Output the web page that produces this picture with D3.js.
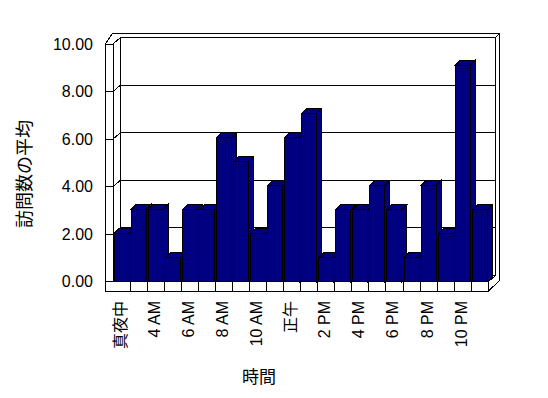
<!DOCTYPE html>
<html>
<head>
<meta charset="utf-8">
<script src="https://cdn.jsdelivr.net/npm/d3@7"></script>
<style>
body { margin: 0; background: #fff; }
text { font-family: "Liberation Sans", "Noto Sans CJK JP", sans-serif; fill: #000; }
</style>
</head>
<body>
<div id="drawing"></div>
<script>
"use strict"

/**** Data ****/
let categories = ["真夜中","3 AM","4 AM","5 AM","6 AM","7 AM","8 AM","9 AM","10 AM","11 AM","正午",
  "1 PM","2 PM","3 PM","4 PM","5 PM","6 PM","7 PM","8 PM","9 PM","10 PM","11 PM"]
let visits = [2,3,3,1,3,3,6,5,2,4,6,7,1,3,3,4,3,1,4,2,9,3]
let yTicks = [0,2,4,6,8,10]
let yTitle = "訪問数の平均"
let xTitle = "時間"

/**** Layout ****/
let svgWidth = 548
let svgHeight = 398

let wallLeft = 105.3     // outer front edge of left wall
let plotLeft = 113       // inner front edge
let plotRight = 488.3
let floorTop = 281.7
let floorBottom = 291
let depth = [7.3, -6.3]  // front -> back wall
let thick = [3.7, -4.4]  // wall thickness
let barDepth = [5, -5]

let svg = d3.select("#drawing")
.append("svg")
.attr("width", svgWidth)
.attr("height", svgHeight)
.attr("shape-rendering", "crispEdges")

/**** Scales ****/
let xScale = d3.scaleBand()
.domain(categories)
.range([plotLeft, plotRight])
.paddingInner(0.12)
.paddingOuter(0.06)

// axis on left wall front face
let yAxis = d3.scaleLinear().domain([0,10]).range([floorTop, 44])
// bars (front face)
let yBar = d3.scaleLinear().domain([0,10]).range([floorTop, 41.2])
// back wall grid
let yBack = d3.scaleLinear().domain([0,10]).range([floorTop + depth[1], 44 + depth[1]])

let line = d3.line()

/**** Back wall ****/
let bx0 = plotLeft + depth[0]
let bx1 = plotRight + depth[0]
let topY = yBack(10)

svg.append("rect")
.attr("x", bx0).attr("y", topY)
.attr("width", bx1 - bx0).attr("height", yBack(0) - topY)
.attr("fill", "#fff").attr("stroke", "#000")

svg.selectAll("line.grid")
.data(yTicks.filter(d => d > 0 && d < 10))
.join("line")
.attr("class", "grid")
.attr("x1", bx0).attr("x2", bx1)
.attr("y1", d => yBack(d)).attr("y2", d => yBack(d))
.attr("stroke", "#000")

// top slab of back wall and right edge
let outerTop = topY + thick[1]
svg.append("path")
.attr("d", line([[wallLeft, yAxis(10)], [wallLeft + depth[0], outerTop],
  [bx1 + thick[0], outerTop], [bx1 + thick[0], floorBottom - 10], [plotRight, floorBottom]]))
.attr("fill", "none").attr("stroke", "#000")

svg.append("path")
.attr("d", line([[bx1, topY], [bx1 + thick[0], outerTop]]))
.attr("fill", "none").attr("stroke", "#000")

svg.append("path")
.attr("d", line([[plotRight, floorTop], [bx1, floorTop + depth[1]], [bx1, topY]]))
.attr("fill", "none").attr("stroke", "#000")

/**** Left wall ****/
svg.append("rect")
.attr("x", wallLeft).attr("y", yAxis(10))
.attr("width", plotLeft - wallLeft).attr("height", floorBottom - yAxis(10))
.attr("fill", "#fff").attr("stroke", "#000")

svg.append("path")
.attr("d", line([[plotLeft, yAxis(10)], [bx0, topY]]))
.attr("stroke", "#000")

// ticks on the left wall
svg.selectAll("path.tick")
.data(yTicks)
.join("path")
.attr("class", "tick")
.attr("d", d => line([[wallLeft, yAxis(d)], [plotLeft, yAxis(d)], [bx0, yBack(d)]]))
.attr("fill", "none").attr("stroke", "#000")

/**** Floor front face ****/
svg.append("rect")
.attr("x", wallLeft).attr("y", floorTop)
.attr("width", plotRight - wallLeft).attr("height", floorBottom - floorTop)
.attr("fill", "#fff").attr("stroke", "#000")

let step = xScale.step()
svg.selectAll("line.cell")
.data(categories.slice(1))
.join("line")
.attr("class", "cell")
.attr("x1", d => xScale(d) - step * 0.06)
.attr("x2", d => xScale(d) - step * 0.06)
.attr("y1", floorTop).attr("y2", floorBottom)
.attr("stroke", "#000")

/**** Bars ****/
let bw = xScale.bandwidth()
let bars = svg.selectAll("g.bar")
.data(categories.map((c, i) => ({cat: c, v: visits[i]})))
.join("g")
.attr("class", "bar")

// side face
bars.append("path")
.attr("d", d => {
  let x = xScale(d.cat) + bw, y = yBar(d.v)
  return line([[x, y], [x + barDepth[0], y + barDepth[1]],
    [x + barDepth[0], floorTop + barDepth[1]], [x, floorTop]]) + "Z"
})
.attr("fill", "#000080").attr("stroke", "#000")

// top face
bars.append("path")
.attr("d", d => {
  let x = xScale(d.cat), y = yBar(d.v)
  return line([[x, y], [x + barDepth[0], y + barDepth[1]],
    [x + bw + barDepth[0], y + barDepth[1]], [x + bw, y]]) + "Z"
})
.attr("fill", "#000080").attr("stroke", "#000")

// front face
bars.append("rect")
.attr("x", d => xScale(d.cat))
.attr("y", d => yBar(d.v))
.attr("width", bw)
.attr("height", d => floorTop - yBar(d.v))
.attr("fill", "#000080").attr("stroke", "#000")

/**** Tick labels ****/
svg.selectAll("text.ylab")
.data(yTicks)
.join("text")
.attr("class", "ylab")
.attr("x", 93)
.attr("y", d => yAxis(d))
.attr("dy", "0.36em")
.style("text-anchor", "end")
.style("font-size", "16px")
.text(d => d3.format(".2f")(d))

svg.selectAll("text.xlab")
.data(categories.filter((d, i) => i % 2 === 0))
.join("text")
.attr("class", "xlab")
.attr("transform", d => `translate(${xScale(d) + bw / 2 - 1.5},301) rotate(-90)`)
.style("text-anchor", "end")
.style("dominant-baseline", "central")
.style("font-size", "16px")
.text(d => d)

/**** Axis titles ****/
svg.append("text")
.attr("transform", "translate(25,174) rotate(-90)")
.style("text-anchor", "middle")
.style("dominant-baseline", "central")
.style("font-size", "18px")
.text(yTitle)

svg.append("text")
.attr("x", 259)
.attr("y", 377)
.style("text-anchor", "middle")
.style("dominant-baseline", "central")
.style("font-size", "17px")
.text(xTitle)
</script>
</body>
</html>
